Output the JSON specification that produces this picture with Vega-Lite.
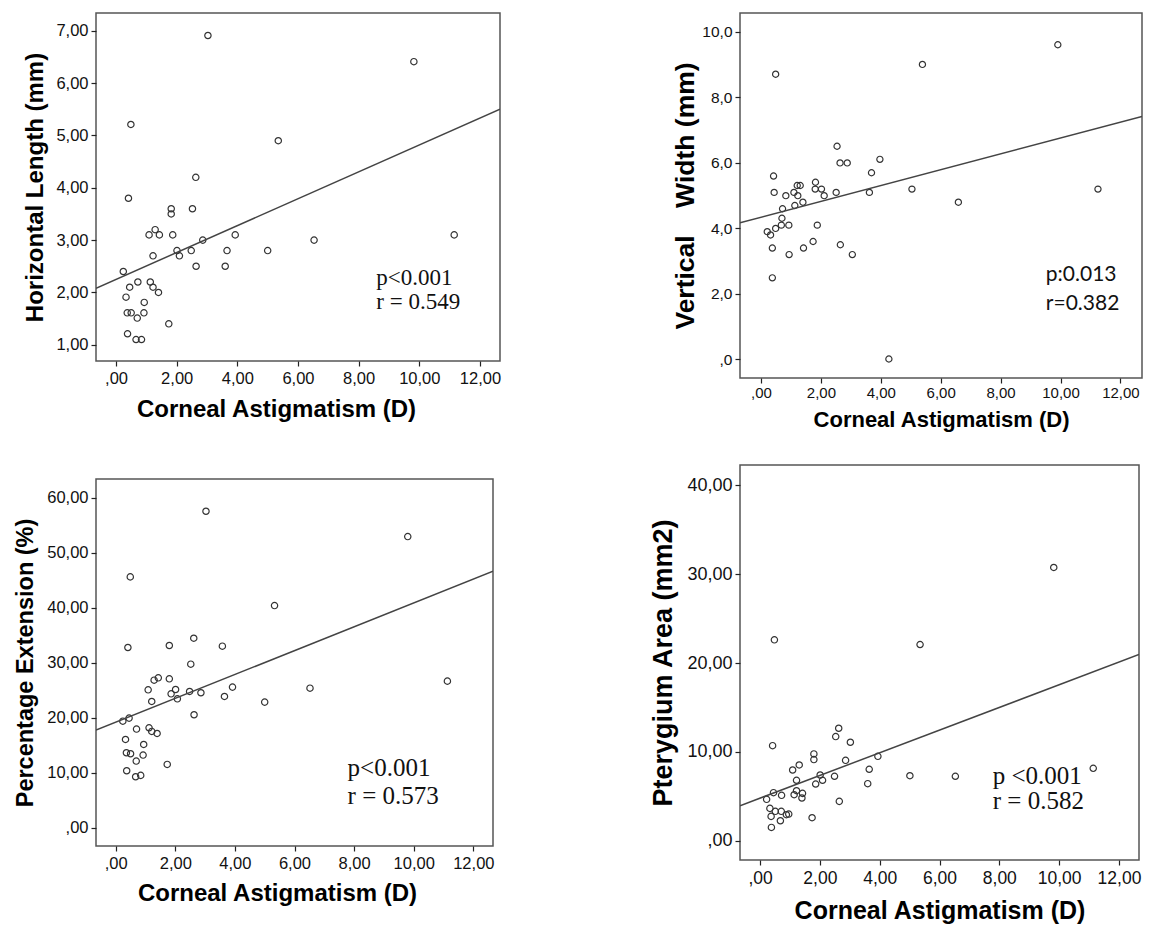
{
  "$schema": "https://vega.github.io/schema/vega-lite/v6.json",
  "padding": {"left": 12, "top": 12, "right": 0, "bottom": 0},
  "background": "white",
  "datasets": {
    "p1": [
      {"x":3.03,"y":6.91},{"x":9.82,"y":6.41},{"x":0.49,"y":5.21},{"x":5.35,"y":4.90},{"x":2.63,"y":4.20},{"x":0.41,"y":3.80},{"x":1.82,"y":3.60},{"x":1.82,"y":3.50},{"x":2.52,"y":3.60},{"x":1.29,"y":3.20},{"x":1.09,"y":3.10},{"x":1.43,"y":3.10},{"x":1.87,"y":3.10},{"x":3.93,"y":3.10},{"x":11.15,"y":3.10},{"x":2.86,"y":3.00},{"x":6.53,"y":3.00},{"x":1.22,"y":2.70},{"x":2.01,"y":2.80},{"x":2.09,"y":2.70},{"x":2.48,"y":2.80},{"x":3.66,"y":2.80},{"x":5.00,"y":2.80},{"x":2.64,"y":2.50},{"x":3.60,"y":2.50},{"x":0.24,"y":2.40},{"x":0.45,"y":2.10},{"x":0.72,"y":2.20},{"x":1.13,"y":2.20},{"x":1.22,"y":2.10},{"x":1.40,"y":2.00},{"x":0.33,"y":1.91},{"x":0.93,"y":1.81},{"x":0.37,"y":1.61},{"x":0.50,"y":1.61},{"x":0.92,"y":1.61},{"x":0.70,"y":1.51},{"x":1.74,"y":1.40},{"x":0.38,"y":1.21},{"x":0.66,"y":1.10},{"x":0.84,"y":1.10}
    ],
    "l1": [{"x":-0.66,"y":2.08},{"x":12.66,"y":5.50}],
    "t1": [{"x":8.58,"y":2.28,"label":"p<0.001"},{"x":8.58,"y":1.82,"label":"r = 0.549"}],
    "p2": [
      {"x":9.91,"y":9.60},{"x":5.39,"y":9.00},{"x":0.49,"y":8.70},{"x":2.54,"y":6.50},{"x":2.64,"y":5.99},{"x":2.88,"y":5.99},{"x":3.97,"y":6.10},{"x":3.69,"y":5.69},{"x":0.42,"y":5.59},{"x":0.44,"y":5.09},{"x":0.83,"y":4.99},{"x":1.10,"y":5.09},{"x":1.23,"y":4.99},{"x":1.21,"y":5.30},{"x":1.31,"y":5.30},{"x":1.82,"y":5.40},{"x":1.81,"y":5.19},{"x":2.02,"y":5.19},{"x":2.11,"y":4.99},{"x":2.51,"y":5.09},{"x":3.62,"y":5.09},{"x":5.04,"y":5.19},{"x":11.25,"y":5.19},{"x":6.59,"y":4.79},{"x":0.72,"y":4.59},{"x":1.13,"y":4.69},{"x":1.40,"y":4.79},{"x":0.70,"y":4.30},{"x":0.68,"y":4.09},{"x":0.93,"y":4.09},{"x":1.88,"y":4.09},{"x":0.21,"y":3.89},{"x":0.32,"y":3.79},{"x":0.49,"y":3.99},{"x":0.38,"y":3.39},{"x":1.42,"y":3.39},{"x":1.74,"y":3.59},{"x":2.65,"y":3.49},{"x":3.05,"y":3.19},{"x":0.94,"y":3.19},{"x":0.38,"y":2.48},{"x":4.27,"y":0.0}
    ],
    "l2": [{"x":-0.70,"y":4.16},{"x":12.72,"y":7.41}],
    "t2": [{"x":9.51,"y":2.58,"label":"p:0.013"},{"x":9.51,"y":1.68,"label":"r=0.382"}],
    "p3": [
      {"x":3.03,"y":57.58},{"x":9.80,"y":52.97},{"x":0.49,"y":45.64},{"x":5.33,"y":40.42},{"x":2.62,"y":34.48},{"x":0.41,"y":32.79},{"x":1.80,"y":33.15},{"x":3.58,"y":33.03},{"x":2.52,"y":29.76},{"x":1.29,"y":26.85},{"x":1.43,"y":27.27},{"x":1.80,"y":27.09},{"x":11.13,"y":26.67},{"x":1.09,"y":25.09},{"x":2.01,"y":25.15},{"x":3.92,"y":25.58},{"x":6.52,"y":25.39},{"x":1.86,"y":24.36},{"x":2.48,"y":24.79},{"x":2.86,"y":24.55},{"x":3.65,"y":23.88},{"x":2.07,"y":23.45},{"x":1.21,"y":22.97},{"x":5.00,"y":22.85},{"x":2.63,"y":20.55},{"x":0.24,"y":19.39},{"x":0.45,"y":19.94},{"x":0.70,"y":17.94},{"x":1.12,"y":18.18},{"x":1.21,"y":17.52},{"x":1.39,"y":17.15},{"x":0.33,"y":16.06},{"x":0.94,"y":15.15},{"x":0.36,"y":13.64},{"x":0.50,"y":13.45},{"x":0.92,"y":13.21},{"x":0.69,"y":12.12},{"x":1.73,"y":11.52},{"x":0.37,"y":10.36},{"x":0.67,"y":9.27},{"x":0.84,"y":9.52}
    ],
    "l3": [{"x":-0.66,"y":17.76},{"x":12.66,"y":46.67}],
    "t3": [{"x":7.78,"y":10.9,"label":"p<0.001"},{"x":7.78,"y":5.76,"label":"r = 0.573"}],
    "p4": [
      {"x":9.82,"y":30.76},{"x":5.35,"y":22.08},{"x":0.48,"y":22.61},{"x":0.42,"y":10.70},{"x":2.63,"y":12.66},{"x":2.53,"y":11.72},{"x":3.02,"y":11.08},{"x":1.80,"y":9.77},{"x":1.80,"y":9.13},{"x":2.86,"y":9.05},{"x":3.94,"y":9.50},{"x":1.31,"y":8.53},{"x":1.09,"y":7.96},{"x":3.65,"y":8.04},{"x":1.22,"y":6.80},{"x":2.01,"y":7.40},{"x":2.09,"y":6.80},{"x":1.86,"y":6.38},{"x":2.49,"y":7.25},{"x":3.60,"y":6.42},{"x":5.01,"y":7.32},{"x":6.53,"y":7.25},{"x":11.14,"y":8.15},{"x":0.45,"y":5.41},{"x":0.72,"y":5.11},{"x":0.22,"y":4.66},{"x":1.14,"y":5.18},{"x":1.22,"y":5.63},{"x":1.42,"y":5.33},{"x":1.40,"y":4.81},{"x":2.65,"y":4.43},{"x":0.33,"y":3.64},{"x":0.51,"y":3.31},{"x":0.71,"y":3.31},{"x":0.37,"y":2.74},{"x":0.88,"y":2.93},{"x":0.96,"y":3.00},{"x":0.68,"y":2.25},{"x":1.74,"y":2.59},{"x":0.38,"y":1.50}
    ],
    "l4": [{"x":-0.67,"y":3.94},{"x":12.67,"y":20.96}],
    "t4": [{"x":7.78,"y":7.32,"label":"p <0.001"},{"x":7.78,"y":4.43,"label":"r = 0.582"}]
  },
  "hconcat": [
    {
      "vconcat": [
        {
          "width": 404, "height": 348,
          "encoding": {
            "x": {"field": "x", "type": "quantitative", "scale": {"domain": [-0.66, 12.66], "nice": false, "zero": false},
                  "axis": {"title": "Corneal Astigmatism (D)", "values": [0,2,4,6,8,10,12], "labelExpr": "datum.value == 0 ? ',00' : replace(format(datum.value, '.2f'), '.', ',')", "labelFontSize": 16.5, "titleFontSize": 24, "labelPadding": 4, "titlePadding": 11, "titleX": 180}},
            "y": {"field": "y", "type": "quantitative", "scale": {"domain": [0.69, 7.34], "nice": false, "zero": false},
                  "axis": {"title": "Horizontal Length (mm)", "values": [1,2,3,4,5,6,7], "labelExpr": "datum.value == 0 ? ',00' : replace(format(datum.value, '.2f'), '.', ',')", "labelFontSize": 16.5, "titleFontSize": 24, "labelPadding": 3, "titlePadding": 8}}
          },
          "layer": [
            {"data": {"name": "p1"}, "mark": {"type": "point", "shape": "circle", "filled": false, "size": 40, "stroke": "#333", "strokeWidth": 1.2, "opacity": 1}},
            {"data": {"name": "l1"}, "mark": {"type": "line", "color": "#444", "strokeWidth": 1.5, "clip": true}, "encoding": {}},
            {"data": {"name": "t1"}, "mark": {"type": "text", "align": "left", "baseline": "middle", "font": "Liberation Serif", "fontSize": 23, "color": "#111"}, "encoding": {"text": {"field": "label"}}}
          ]
        },
        {
          "width": 397, "height": 367,
          "encoding": {
            "x": {"field": "x", "type": "quantitative", "scale": {"domain": [-0.66, 12.66], "nice": false, "zero": false},
                  "axis": {"title": "Corneal Astigmatism (D)", "values": [0,2,4,6,8,10,12], "labelExpr": "datum.value == 0 ? ',00' : replace(format(datum.value, '.2f'), '.', ',')", "labelFontSize": 16.5, "titleFontSize": 24, "labelPadding": 4, "titlePadding": 10, "titleX": 181}},
            "y": {"field": "y", "type": "quantitative", "scale": {"domain": [-3.33, 63.45], "nice": false, "zero": false},
                  "axis": {"title": "Percentage Extension (%)", "values": [0,10,20,30,40,50,60], "labelExpr": "datum.value == 0 ? ',00' : replace(format(datum.value, '.2f'), '.', ',')", "labelFontSize": 16.5, "titleFontSize": 23.5, "labelPadding": 3, "titlePadding": 9}}
          },
          "layer": [
            {"data": {"name": "p3"}, "mark": {"type": "point", "shape": "circle", "filled": false, "size": 40, "stroke": "#333", "strokeWidth": 1.2, "opacity": 1}},
            {"data": {"name": "l3"}, "mark": {"type": "line", "color": "#444", "strokeWidth": 1.5, "clip": true}, "encoding": {}},
            {"data": {"name": "t3"}, "mark": {"type": "text", "align": "left", "baseline": "middle", "font": "Liberation Serif", "fontSize": 25, "color": "#111"}, "encoding": {"text": {"field": "label"}}}
          ]
        }
      ],
      "spacing": 55
    },
    {
      "vconcat": [
        {
          "width": 402, "height": 365,
          "encoding": {
            "x": {"field": "x", "type": "quantitative", "scale": {"domain": [-0.70, 12.72], "nice": false, "zero": false},
                  "axis": {"title": "Corneal Astigmatism (D)", "values": [0,2,4,6,8,10,12], "labelExpr": "datum.value == 0 ? ',00' : replace(format(datum.value, '.2f'), '.', ',')", "labelFontSize": 15, "titleFontSize": 22, "labelPadding": 2, "titlePadding": 9}},
            "y": {"field": "y", "type": "quantitative", "scale": {"domain": [-0.58, 10.57], "nice": false, "zero": false},
                  "axis": {"title": "Vertical\u00a0\u00a0\u00a0\u2009Width (mm)", "values": [0,2,4,6,8,10], "labelExpr": "datum.value == 0 ? ',0' : replace(format(datum.value, '.1f'), '.', ',')", "labelFontSize": 15.5, "titleFontSize": 26.5, "labelPadding": 3, "titlePadding": 2}}
          },
          "layer": [
            {"data": {"name": "p2"}, "mark": {"type": "point", "shape": "circle", "filled": false, "size": 38, "stroke": "#333", "strokeWidth": 1.2, "opacity": 1}},
            {"data": {"name": "l2"}, "mark": {"type": "line", "color": "#444", "strokeWidth": 1.5, "clip": true}, "encoding": {}},
            {"data": {"name": "t2"}, "mark": {"type": "text", "align": "left", "baseline": "middle", "font": "Lato", "fontSize": 21, "color": "#111"}, "encoding": {"text": {"field": "label"}}}
          ]
        },
        {
          "width": 399, "height": 395,
          "encoding": {
            "x": {"field": "x", "type": "quantitative", "scale": {"domain": [-0.67, 12.67], "nice": false, "zero": false},
                  "axis": {"title": "Corneal Astigmatism (D)", "values": [0,2,4,6,8,10,12], "labelExpr": "datum.value == 0 ? ',00' : replace(format(datum.value, '.2f'), '.', ',')", "labelFontSize": 17.5, "titleFontSize": 25, "labelPadding": 4, "titlePadding": 12}},
            "y": {"field": "y", "type": "quantitative", "scale": {"domain": [-2.17, 42.29], "nice": false, "zero": false},
                  "axis": {"title": "Pterygium Area (mm2)", "values": [0,10,20,30,40], "labelExpr": "datum.value == 0 ? ',00' : replace(format(datum.value, '.2f'), '.', ',')", "labelFontSize": 18, "titleFontSize": 27, "labelPadding": 3, "titlePadding": 9}}
          },
          "layer": [
            {"data": {"name": "p4"}, "mark": {"type": "point", "shape": "circle", "filled": false, "size": 40, "stroke": "#333", "strokeWidth": 1.2, "opacity": 1}},
            {"data": {"name": "l4"}, "mark": {"type": "line", "color": "#444", "strokeWidth": 1.5, "clip": true}, "encoding": {}},
            {"data": {"name": "t4"}, "mark": {"type": "text", "align": "left", "baseline": "middle", "font": "Liberation Serif", "fontSize": 25, "color": "#111"}, "encoding": {"text": {"field": "label"}}}
          ]
        }
      ],
      "spacing": 33
    }
  ],
  "spacing": 147,
  "config": {
    "view": {"stroke": "#555", "strokeWidth": 1.5},
    "axis": {"domain": false, "grid": false, "ticks": true, "tickColor": "#222", "tickSize": 5, "tickWidth": 1.2, "labelColor": "#111", "titleColor": "#000", "labelFont": "Liberation Sans", "titleFont": "Liberation Sans", "titleFontWeight": "bold", "labelFlush": false, "labelOverlap": false}
  }
}
